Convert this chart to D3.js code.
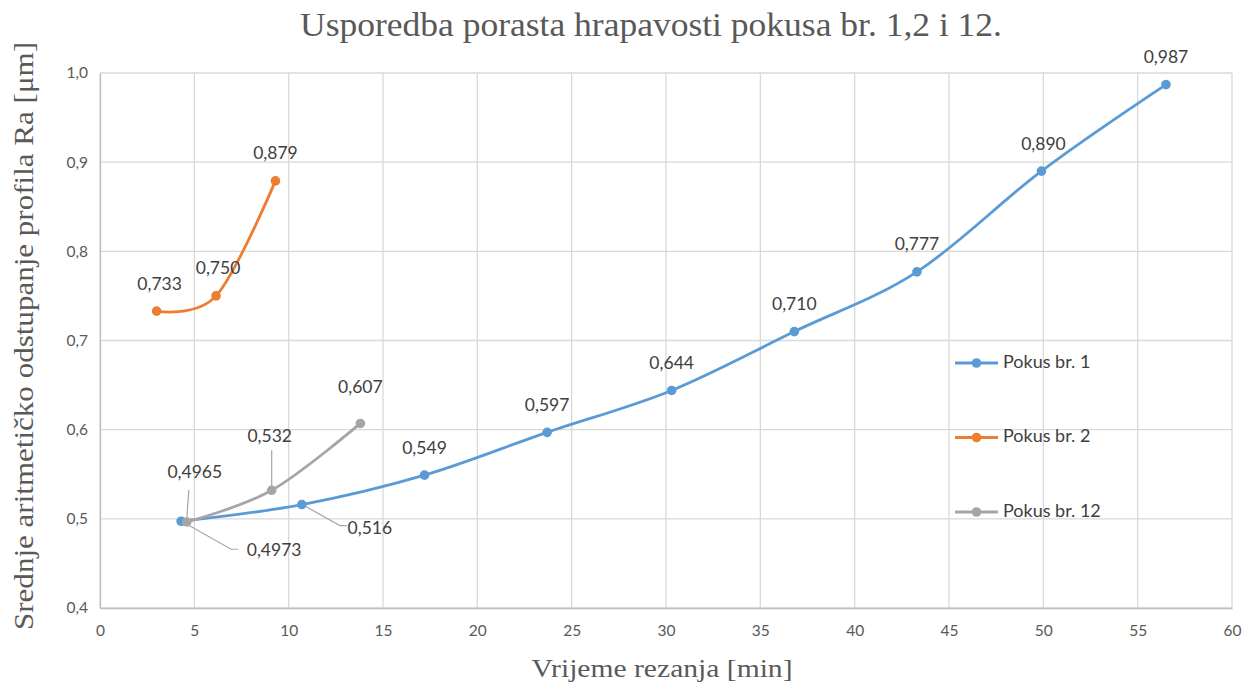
<!DOCTYPE html>
<html>
<head>
<meta charset="utf-8">
<script src="https://cdn.jsdelivr.net/npm/d3@7"></script>
<style>
  html, body { margin: 0; padding: 0; background: #fff; }
  svg { display: block; }
</style>
</head>
<body>
<svg id="chart" width="1253" height="688"></svg>
<script>
// Cutting time [min] and roughness Ra [µm] per test run
const pokus1X = [4.3, 10.7, 17.2, 23.7, 30.3, 36.8, 43.3, 49.9, 56.5];
const pokus1Y = [0.4973, 0.516, 0.549, 0.597, 0.644, 0.710, 0.777, 0.890, 0.987];
const pokus2X = [3.0, 6.15, 9.3];
const pokus2Y = [0.733, 0.750, 0.879];
const pokus12X = [4.6, 9.1, 13.8];
const pokus12Y = [0.4965, 0.532, 0.607];

const seriesNames = ["Pokus br. 1", "Pokus br. 2", "Pokus br. 12"];
const xTicks = [0, 5, 10, 15, 20, 25, 30, 35, 40, 45, 50, 55, 60];
const yTicks = [0.4, 0.5, 0.6, 0.7, 0.8, 0.9, 1.0];

const titleText = "Usporedba porasta hrapavosti pokusa br. 1,2 i 12.";
const xTitle = "Vrijeme rezanja [min]";
const yTitle = "Srednje aritmetičko odstupanje profila Ra [μm]";

// Label placement (dx, dy relative to the point, optional leader line)
const labelLayout = [
  [ {dx: 93, dy: 30, leader: [[4, 2], [50, 28], [57, 28]]},
    {dx: 68, dy: 25, leader: [[4, 2], [38, 21], [45, 21]]},
    {dx: 0, dy: -26}, {dx: 0, dy: -26}, {dx: 0, dy: -26}, {dx: 0, dy: -26},
    {dx: 0, dy: -26}, {dx: 2, dy: -26}, {dx: 0, dy: -26} ],
  [ {dx: 3, dy: -26}, {dx: 2, dy: -26}, {dx: 0, dy: -26} ],
  [ {dx: 8, dy: -48, leader: [[0, -3], [2, -32]]},
    {dx: -2, dy: -53, leader: [[0, -3], [0, -40]]},
    {dx: 0, dy: -35} ]
];

const colors = ["#5B9BD5", "#ED7D31", "#A5A5A5"];
const series = [
  {name: seriesNames[0], xs: pokus1X, ys: pokus1Y, color: colors[0]},
  {name: seriesNames[1], xs: pokus2X, ys: pokus2Y, color: colors[1]},
  {name: seriesNames[2], xs: pokus12X, ys: pokus12Y, color: colors[2]}
];

const svg = d3.select("#chart");
const plot = {left: 100, right: 1232, top: 73, bottom: 608};

const x = d3.scaleLinear().domain([0, 60]).range([plot.left, plot.right]);
const y = d3.scaleLinear().domain([0.4, 1.0]).range([plot.bottom, plot.top]);

const fmt = v => String(v).replace(".", ",");
const fmtY = v => d3.format(".1f")(v).replace(".", ",");
const sans = "Lato, 'Open Sans', sans-serif";
const serif = "'Liberation Serif', 'Times New Roman', serif";

// Gridlines
const grid = svg.append("g");
grid.selectAll("line.v").data(xTicks).join("line")
  .attr("x1", d => x(d)).attr("x2", d => x(d))
  .attr("y1", plot.top).attr("y2", plot.bottom)
  .attr("stroke", "#d9d9d9").attr("stroke-width", 1.3);
grid.selectAll("line.h").data(yTicks).join("line")
  .attr("y1", d => y(d)).attr("y2", d => y(d))
  .attr("x1", plot.left).attr("x2", plot.right)
  .attr("stroke", "#d9d9d9").attr("stroke-width", 1.3);

// Axes
const xAxis = d3.axisBottom(x).tickValues(xTicks).tickSize(0).tickPadding(17).tickFormat(d => d);
const gx = svg.append("g").attr("transform", `translate(0,${plot.bottom})`).call(xAxis);
gx.select(".domain").attr("stroke", "#bfbfbf").attr("stroke-width", 1.3);

const yAxis = d3.axisLeft(y).tickValues(yTicks).tickSize(0).tickPadding(12).tickFormat(fmtY);
const gy = svg.append("g").attr("transform", `translate(${plot.left},0)`).call(yAxis);
gy.select(".domain").attr("stroke", "#bfbfbf").attr("stroke-width", 1.3);

svg.selectAll(".tick text")
  .attr("font-family", sans)
  .attr("font-size", 15.5).attr("fill", "#595959");

// Series lines and markers
const line = d3.line().curve(d3.curveCardinal.tension(0));
series.forEach((s, si) => {
  const pts = s.xs.map((v, i) => [x(v), y(s.ys[i])]);
  svg.append("path").attr("d", line(pts))
    .attr("fill", "none").attr("stroke", s.color)
    .attr("stroke-width", 2.8).attr("stroke-linecap", "round");
  svg.append("g").selectAll("circle").data(pts).join("circle")
    .attr("cx", d => d[0]).attr("cy", d => d[1]).attr("r", 4.8)
    .attr("fill", s.color);
});

// Data labels
series.forEach((s, si) => {
  s.xs.forEach((v, i) => {
    const px = x(v), py = y(s.ys[i]);
    const lay = labelLayout[si][i];
    if (lay.leader) {
      svg.append("polyline")
        .attr("points", lay.leader.map(p => [px + p[0], py + p[1]].join(",")).join(" "))
        .attr("fill", "none").attr("stroke", "#a6a6a6").attr("stroke-width", 1.2);
    }
    svg.append("text")
      .attr("x", px + lay.dx).attr("y", py + lay.dy)
      .attr("text-anchor", "middle").attr("dominant-baseline", "middle")
      .attr("font-family", sans)
      .attr("font-size", 17.5).attr("fill", "#404040")
      .text(fmt(s.ys[i]).padEnd(5, "0"));
  });
});

// Legend
const legend = svg.append("g").attr("transform", "translate(955,363)");
series.forEach((s, i) => {
  const g = legend.append("g").attr("transform", `translate(0,${i * 74.5})`);
  g.append("line").attr("x1", 0).attr("x2", 43).attr("y1", 0).attr("y2", 0)
    .attr("stroke", s.color).attr("stroke-width", 2.8);
  g.append("circle").attr("cx", 21.5).attr("cy", 0).attr("r", 4.8).attr("fill", s.color);
  g.append("text").attr("x", 48).attr("y", 0).attr("dominant-baseline", "middle")
    .attr("font-family", sans)
    .attr("font-size", 18).attr("fill", "#404040").text(s.name);
});

// Titles
svg.append("text").attr("x", 651).attr("y", 36).attr("text-anchor", "middle")
  .attr("font-family", serif).attr("font-size", 33)
  .attr("textLength", 702).attr("lengthAdjust", "spacingAndGlyphs")
  .attr("fill", "#595959").text(titleText);

svg.append("text").attr("x", 662).attr("y", 677).attr("text-anchor", "middle")
  .attr("font-family", serif).attr("font-size", 25)
  .attr("textLength", 261).attr("lengthAdjust", "spacingAndGlyphs")
  .attr("fill", "#595959").text(xTitle);

svg.append("text").attr("transform", "translate(33,336) rotate(-90)")
  .attr("text-anchor", "middle")
  .attr("font-family", serif).attr("font-size", 28)
  .attr("textLength", 588).attr("lengthAdjust", "spacingAndGlyphs")
  .attr("fill", "#595959").text(yTitle);
</script>
</body>
</html>
